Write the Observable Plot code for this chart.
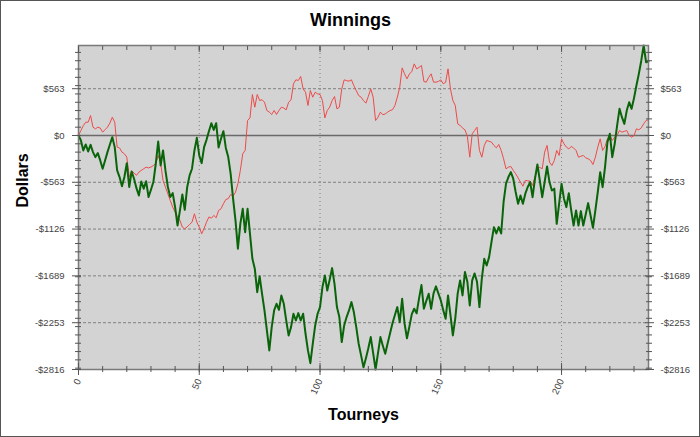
<!DOCTYPE html>
<html><head><meta charset="utf-8">
<script src="https://cdn.jsdelivr.net/npm/d3@7"></script>
<script src="https://cdn.jsdelivr.net/npm/@observablehq/plot@0.6"></script>
<style>
html,body{margin:0;padding:0;background:#fff;}
#wrap{position:relative;width:700px;height:437px;overflow:hidden;}
#wrap svg{position:absolute;left:0;top:0;}
#border{position:absolute;left:0;top:0;width:700px;height:437px;box-sizing:border-box;border:1px solid #555;pointer-events:none;}
</style></head>
<body><div id="wrap"><div id="border"></div></div>
<script>
const titleText = "Winnings";
const xLabel = "Tourneys";
const yLabel = "Dollars";

// Red series (thin line), one value per tourney 0..236
const redSeries = [
  0, 60, 120, 160, 160, 240, 100, 80, 100, 90,
  40, 70, 100, 150, 220, 160, -140, -150, -200, -220,
  -260, -500, -430, -450, -480, -441, -420, -400, -381, -390,
  -380, -361, -340, -240, -330, -541, -622, -702, -782, -862,
  -922, -980, -1023, -1103, -1123, -1100, -1070, -1043, -942, -1043,
  -1103, -1183, -1120, -1043, -980, -995, -962, -990, -902, -882,
  -822, -770, -760, -710, -730, -682, -581, -421, -220, -180,
  180, 212, 493, 341, 493, 421, 430, 401, 301, 281,
  253, 301, 253, 301, 341, 330, 309, 401, 429, 622,
  670, 662, 710, 561, 521, 361, 541, 461, 521, 501,
  493, 421, 212, 301, 341, 420, 469, 321, 341, 560,
  670, 660, 654, 670, 600, 540, 481, 461, 420, 389,
  470, 561, 461, 180, 220, 281, 250, 260, 281, 300,
  310, 360, 461, 580, 814, 742, 682, 740, 770, 862,
  802, 820, 842, 650, 642, 700, 742, 642, 642, 650,
  670, 622, 640, 802, 561, 421, 361, 140, 120, 92,
  68, -10, -261, 20, 60, 100, -180, -261, -120, -60,
  -70, -80, -120, -148, -108, -180, -281, -401, -381, -373,
  -420, -460, -510, -561, -610, -541, -545, -549, -601, -500,
  -389, -385, -400, -200, -120, -321, -361, -301, -180, -240,
  -40, -100, -140, -160, -132, -150, -180, -261, -250, -240,
  -269, -280, -300, -349, -261, -140, -40, -180, -132, -40,
  0, -60, -20, 0, 60, 40, 50, 60, 0, -20,
  0, 80, 68, 92, 140, 180, 190
];

// Green series (thick line), one value per tourney 0..236
const greenSeries = [
  0, -60, -180, -108, -192, -112, -200, -260, -212, -300,
  -400, -300, -200, -108, -20, -140, -420, -500, -610, -500,
  -333, -620, -433, -520, -634, -722, -553, -640, -550, -740,
  -653, -560, -340, -72, -360, -180, -420, -620, -740, -694,
  -862, -1083, -902, -710, -894, -622, -480, -400, -180, -28,
  -240, -333, -140, -52, 52, 148, 68, 148, -144, -40,
  52, -150, -260, -461, -760, -1022, -1363, -1063, -882, -1163,
  -882, -1183, -1484, -1604, -1885, -1696, -1905, -2105, -2346, -2586,
  -2306, -2105, -2025, -2097, -1925, -2025, -2226, -2406, -2306, -2145,
  -2226, -2137, -2226, -2145, -2386, -2586, -2740, -2506, -2286, -2145,
  -2065, -1825, -1684, -1865, -1736, -1596, -1785, -2065, -2185, -2486,
  -2286, -2185, -2105, -2005, -2125, -2306, -2506, -2646, -2790, -2680,
  -2560, -2426, -2620, -2816, -2620, -2426, -2530, -2627, -2500, -2380,
  -2260, -2160, -2065, -2246, -1965, -2262, -2440, -2300, -2150, -2085,
  -2140, -1960, -1800, -2085, -1990, -1905, -2085, -1900, -1816, -1900,
  -1985, -2100, -2206, -1925, -2160, -2406, -2200, -1900, -1744, -1925,
  -1644, -1760, -2045, -1744, -1660, -1760, -2065, -1720, -1484, -1564,
  -1464, -1280, -1103, -1179, -1103, -1179, -800, -581, -500, -441,
  -520, -680, -822, -722, -822, -700, -620, -561, -742, -520,
  -349, -540, -742, -560, -373, -560, -662, -640, -1063, -820,
  -581, -760, -862, -694, -900, -1083, -902, -1083, -910, -1083,
  -950, -814, -960, -1111, -900, -680, -441, -622, -380, -80,
  20, -261, -100, 120, 321, 220, 140, 300, 401, 321,
  450, 601, 742, 900, 1083, 882, 894
];

const xTicks = [0, 50, 100, 150, 200];
const yTicks = [563, 0, -563, -1126, -1689, -2253, -2816];
const yTickLabels = ["$563", "$0", "-$563", "-$1126", "-$1689", "-$2253", "-$2816"];

const labelMap = new Map(yTicks.map((v, i) => [v, yTickLabels[i]]));
const minorX = d3.range(0, 237, 10);
const minorY = d3.range(-2800, 1001, 100);
const font = "'Liberation Sans', Arial, Helvetica, sans-serif";
const tickColor = "#555";

const chart = Plot.plot({
  width: 700,
  height: 437,
  marginLeft: 78,
  marginRight: 52,
  marginTop: 45,
  marginBottom: 68,
  style: {background: "transparent", fontFamily: font, fontSize: "9.5px", color: "#444", overflow: "visible"},
  x: {domain: [0, 236]},
  y: {domain: [-2816, 1083]},
  marks: [
    Plot.frame({fill: "#d3d3d3", stroke: null}),
    Plot.gridY(yTicks.filter(d => d !== 0), {stroke: "#808080", strokeOpacity: 1, strokeDasharray: "3,2"}),
    Plot.gridX(xTicks.filter(d => d !== 0), {stroke: "#808080", strokeOpacity: 1, strokeDasharray: "1,3"}),
    Plot.ruleY([0], {stroke: "#6a6a6a", strokeWidth: 1.5}),
    Plot.lineY(redSeries, {stroke: "#ee4a4a", strokeWidth: 1}),
    Plot.lineY(greenSeries, {stroke: "#0a640a", strokeWidth: 2}),
    Plot.frame({stroke: "#7a7a7a", strokeWidth: 1.5}),
    // left axis
    Plot.axisY(minorY, {anchor: "left", tickSize: 6, dx: 3, fill: "none", stroke: tickColor, label: null}),
    Plot.axisY(yTicks, {anchor: "left", tickSize: 9, dx: 3, fill: "none", stroke: tickColor, label: null}),
    Plot.axisY(yTicks, {anchor: "left", tickSize: 0, tickPadding: 14, stroke: "none", fill: "#444", tickFormat: d => labelMap.get(d), label: null}),
    // right axis
    Plot.axisY(minorY, {anchor: "right", tickSize: 6, dx: -3, fill: "none", stroke: tickColor, label: null}),
    Plot.axisY(yTicks, {anchor: "right", tickSize: 9, dx: -4, fill: "none", stroke: tickColor, label: null}),
    Plot.axisY(yTicks, {anchor: "right", tickSize: 0, tickPadding: 12, stroke: "none", fill: "#444", tickFormat: d => labelMap.get(d), label: null}),
    // bottom axis
    Plot.axisX(minorX, {anchor: "bottom", tickSize: 6, dy: -3, fill: "none", stroke: tickColor, label: null}),
    Plot.axisX(xTicks, {anchor: "bottom", tickSize: 12, dy: -6, fill: "none", stroke: tickColor, label: null}),
    Plot.axisX(xTicks, {anchor: "bottom", tickSize: 0, tickPadding: 10, tickRotate: -65, stroke: "none", fill: "#444", label: null}),
    // top axis
    Plot.axisX(minorX, {anchor: "top", tickSize: 4, dy: 4, fill: "none", stroke: tickColor, label: null}),
    Plot.axisX(xTicks, {anchor: "top", tickSize: 6, dy: 6, fill: "none", stroke: tickColor, label: null}),
    // titles
    Plot.text([titleText], {text: d => d, frameAnchor: "top", dx: -13, dy: -25, lineAnchor: "middle", fontSize: 18, fontWeight: "bold", fill: "#000"}),
    Plot.text([xLabel], {text: d => d, frameAnchor: "bottom", dy: 45, lineAnchor: "middle", fontSize: 16, fontWeight: "bold", fill: "#000"}),
    Plot.text([yLabel], {text: d => d, frameAnchor: "left", dx: -56, rotate: -90, lineAnchor: "middle", fontSize: 16, fontWeight: "bold", fill: "#000"})
  ]
});
const wrap = document.getElementById("wrap");
wrap.insertBefore(chart, wrap.firstChild);
</script>
</body></html>
